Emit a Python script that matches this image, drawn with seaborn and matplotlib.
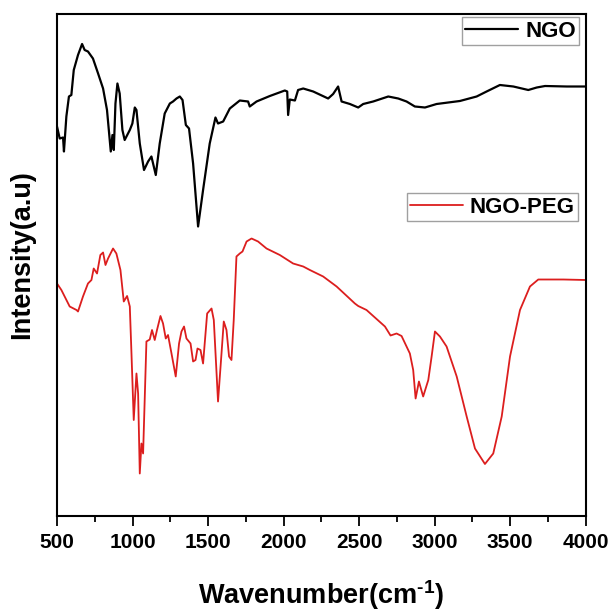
import numpy as np
import pandas as pd
import matplotlib
matplotlib.use("Agg")
import matplotlib.pyplot as plt
from matplotlib.ticker import AutoMinorLocator
from matplotlib.lines import Line2D
import seaborn as sns

# ---- data (wavenumber in cm^-1, intensity in a.u.) ----
ngo_wn = [500, 518, 540, 546, 562, 579, 595, 611, 639, 666, 683, 705, 738, 772, 805, 831,
          856, 867, 876, 887, 900, 915, 933, 948, 982, 999, 1015, 1026, 1048, 1076, 1103,
          1125, 1154, 1180, 1213, 1247, 1268, 1291, 1313, 1331, 1353, 1374, 1401, 1434,
          1467, 1511, 1549, 1566, 1600, 1644, 1710, 1765, 1776, 1821, 1909, 2008, 2024,
          2030, 2041, 2075, 2096, 2130, 2196, 2295, 2328, 2361, 2384, 2439, 2494, 2527,
          2593, 2693, 2759, 2814, 2869, 2936, 3013, 3167, 3278, 3344, 3432, 3521, 3620,
          3676, 3731, 3874, 4000]
ngo_int = [77.9, 75.5, 75.7, 72.9, 79.9, 83.9, 84.2, 89.2, 92.2, 94.4, 93.2, 92.9, 91.5,
           88.5, 85.5, 81.2, 72.9, 76.2, 73.2, 82.5, 86.5, 84.5, 77.2, 75.2, 77.2, 78.5,
           81.7, 81.2, 74.5, 69.2, 70.9, 71.9, 68.2, 74.5, 80.5, 82.5, 82.9, 83.5, 83.9,
           83.2, 78.2, 77.5, 70.5, 57.9, 65.2, 74.5, 79.7, 78.5, 78.9, 81.5, 83.1, 82.9,
           81.9, 82.9, 84.0, 85.1, 84.9, 80.2, 83.3, 83.1, 85.2, 85.5, 84.9, 83.5, 84.4,
           85.9, 82.9, 82.4, 81.7, 82.4, 82.9, 83.9, 83.5, 82.9, 81.9, 81.7, 82.4, 83.0,
           83.9, 84.9, 86.2, 85.9, 85.2, 85.7, 86.0, 85.9, 85.9]

peg_wn = [500, 529, 584, 629, 639, 672, 705, 728, 743, 765, 787, 805, 821, 838, 871, 893,
          920, 942, 964, 982, 993, 1008, 1026, 1037, 1048, 1059, 1070, 1092, 1114, 1129,
          1147, 1162, 1185, 1202, 1220, 1235, 1258, 1286, 1308, 1324, 1341, 1357, 1384,
          1401, 1417, 1430, 1450, 1467, 1494, 1523, 1538, 1566, 1589, 1604, 1622, 1639,
          1655, 1670, 1688, 1710, 1728, 1755, 1788, 1831, 1887, 1975, 2063, 2130, 2174,
          2262, 2351, 2472, 2494, 2549, 2671, 2708, 2748, 2781, 2836, 2858, 2874, 2896,
          2924, 2958, 2980, 3002, 3035, 3079, 3146, 3212, 3267, 3333, 3388, 3444, 3499,
          3565, 3631, 3686, 3852, 4000]
peg_int = [46.5, 45.2, 41.9, 41.2, 40.9, 43.9, 46.5, 47.2, 49.5, 48.5, 52.2, 52.7, 50.2,
           51.5, 53.5, 52.5, 49.2, 42.9, 44.0, 41.9, 32.5, 19.2, 28.5, 24.5, 8.5, 14.5,
           12.5, 34.9, 35.3, 37.2, 35.2, 37.2, 40.0, 38.5, 35.5, 36.2, 32.5, 27.9, 34.5,
           36.9, 37.9, 35.5, 34.5, 30.9, 31.2, 33.5, 33.2, 30.5, 40.5, 41.5, 39.2, 22.9,
           32.5, 38.9, 37.2, 31.9, 31.2, 39.2, 51.9, 52.5, 52.9, 54.9, 55.5, 54.9, 53.5,
           52.2, 50.5, 49.9, 49.2, 47.9, 45.9, 42.5, 42.0, 41.2, 37.9, 36.1, 36.5, 36.0,
           32.5, 29.2, 23.5, 26.9, 23.9, 27.2, 31.9, 36.9, 35.9, 33.9, 27.9, 19.9, 13.5,
           10.4, 12.5, 19.9, 31.9, 41.2, 45.9, 47.3, 47.3, 47.2]

series_names = ["NGO", "NGO-PEG"]
x_ticks = [500, 1000, 1500, 2000, 2500, 3000, 3500, 4000]

df_ngo = pd.DataFrame({"Wavenumber": ngo_wn, "Intensity": ngo_int})
df_peg = pd.DataFrame({"Wavenumber": peg_wn, "Intensity": peg_int})

sns.set_style("ticks")
plt.rcParams["font.family"] = ["Liberation Sans", "DejaVu Sans"]
plt.rcParams["font.weight"] = "bold"
plt.rcParams["text.color"] = "black"
plt.rcParams["axes.labelcolor"] = "black"
plt.rcParams["xtick.color"] = "black"
plt.rcParams["ytick.color"] = "black"
plt.rcParams["axes.unicode_minus"] = False
plt.rcParams["mathtext.fontset"] = "custom"
plt.rcParams["mathtext.rm"] = "Liberation Sans:bold"
plt.rcParams["mathtext.bf"] = "Liberation Sans:bold"
plt.rcParams["mathtext.it"] = "Liberation Sans:bold"

fig = plt.figure(figsize=(6.15, 6.16), dpi=100)
ax = fig.add_axes([57 / 615, 1 - 516 / 616, (585.7 - 57) / 615, (516 - 14) / 616])

black = "#000000"
red = "#dc1e1e"
sns.lineplot(data=df_ngo, x="Wavenumber", y="Intensity", ax=ax, color=black,
             linewidth=1.6, sort=False, legend=False)
sns.lineplot(data=df_peg, x="Wavenumber", y="Intensity", ax=ax, color=red,
             linewidth=1.3, sort=False, legend=False)

ax.set_xlim(500, 4000)
ax.set_ylim(0, 100.4)
ax.set_xticks(x_ticks)
ax.set_xticklabels([str(t) for t in x_ticks], fontsize=15, fontweight="bold", color="black")
ax.xaxis.set_minor_locator(AutoMinorLocator(2))
ax.set_yticks([])
ax.tick_params(axis="x", which="major", direction="out", length=7.5, width=1.3, pad=5,
               top=False, colors="black")
ax.tick_params(axis="x", which="minor", direction="out", length=4.5, width=1.3, top=False,
               colors="black")
for s in ax.spines.values():
    s.set_visible(True)
    s.set_linewidth(1.5)
    s.set_color("black")

ax.set_xlabel(r"Wavenumber(cm$^{\text{-1}}$)", fontsize=19.5, fontweight="bold", color="black")
ax.set_ylabel("Intensity(a.u)", fontsize=19.5, fontweight="bold", color="black")
ax.xaxis.set_label_coords(0.5, (516 - 578) / 502)
ax.yaxis.set_label_coords(-0.042, 0.52)

leg_kw = dict(loc="upper right", frameon=True, fancybox=False, shadow=False,
              borderpad=0.15, borderaxespad=0, handlelength=2.4, handletextpad=0.3,
              bbox_transform=fig.transFigure, prop={"weight": "bold", "size": 16})
h1 = Line2D([], [], color=black, linewidth=1.6)
leg1 = ax.legend([h1], [series_names[0]], bbox_to_anchor=(579 / 615, 1 - 17.3 / 616), **leg_kw)
leg1.get_frame().set_edgecolor("#888888")
leg1.get_frame().set_linewidth(1.0)
for t in leg1.get_texts():
    t.set_color("black")
ax.add_artist(leg1)
h2 = Line2D([], [], color=red, linewidth=1.3)
leg2 = ax.legend([h2], [series_names[1]], bbox_to_anchor=(578.3 / 615, 1 - 193.3 / 616), **leg_kw)
leg2.get_frame().set_edgecolor("#888888")
leg2.get_frame().set_linewidth(1.0)
for t in leg2.get_texts():
    t.set_color("black")

fig.savefig("out.png", dpi=100)
